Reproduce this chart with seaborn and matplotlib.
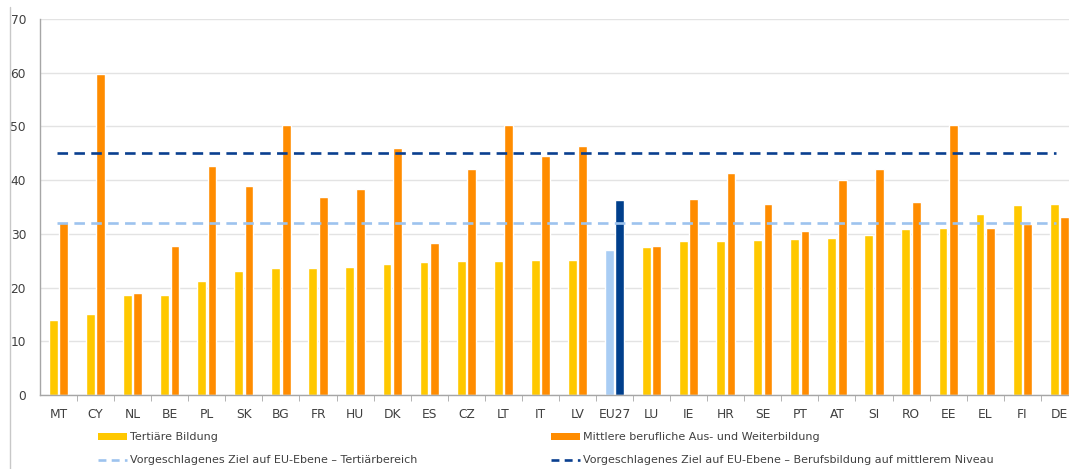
import pandas as pd
import matplotlib
matplotlib.use("Agg")
import matplotlib.pyplot as plt
import seaborn as sns
from matplotlib.lines import Line2D
from matplotlib.patches import Patch

# data
countries = ['MT', 'CY', 'NL', 'BE', 'PL', 'SK', 'BG', 'FR', 'HU', 'DK', 'ES', 'CZ', 'LT', 'IT',
             'LV', 'EU27', 'LU', 'IE', 'HR', 'SE', 'PT', 'AT', 'SI', 'RO', 'EE', 'EL', 'FI', 'DE']
tertiaer = [14.0, 15.0, 18.7, 18.7, 21.3, 23.0, 23.7, 23.7, 23.8, 24.4, 24.7, 24.9, 25.0, 25.1,
            25.1, 27.0, 27.5, 28.6, 28.6, 28.9, 29.0, 29.2, 29.7, 30.9, 31.0, 33.7, 35.3, 35.5]
berufl = [32.3, 59.8, 19.0, 27.7, 42.6, 38.9, 50.2, 36.9, 38.3, 46.0, 28.3, 42.1, 50.3, 44.5,
          46.4, 36.3, 27.7, 36.4, 41.4, 35.5, 30.5, 40.1, 42.1, 36.0, 50.2, 31.0, 31.8, 33.2]
ziel_tertiaer = 32
ziel_berufl = 45

lbl_t = 'Tertiäre Bildung'
lbl_b = 'Mittlere berufliche Aus- und Weiterbildung'
lbl_zt = 'Vorgeschlagenes Ziel auf EU-Ebene – Tertiärbereich'
lbl_zb = 'Vorgeschlagenes Ziel auf EU-Ebene – Berufsbildung auf mittlerem Niveau'

c_t, c_b = '#FFC800', '#FF8C00'
c_eu_t, c_eu_b = '#A9CDF4', '#003F8C'
c_zt, c_zb = '#9DC3EE', '#0A3F8F'

df = pd.DataFrame({'land': countries * 2,
                   'wert': tertiaer + berufl,
                   'typ': [lbl_t] * len(countries) + [lbl_b] * len(countries)})

sns.set_style('white')
plt.rcParams['font.family'] = ['DejaVu Sans']
plt.rcParams['text.color'] = '#404040'

fig = plt.figure(figsize=(10.69, 4.69), dpi=100)
ax = fig.add_axes([40 / 1069, 1 - 395 / 469, 1 - 40 / 1069, (395 - 19) / 469])

sns.barplot(data=df, x='land', y='wert', hue='typ', palette=[c_t, c_b],
            width=0.56, gap=0.15, ax=ax, legend=False, saturation=1)

# EU27 in blue
i_eu = countries.index('EU27')
ax.containers[0][i_eu].set_facecolor(c_eu_t)
ax.containers[1][i_eu].set_facecolor(c_eu_b)

ax.hlines(ziel_tertiaer, -0.05, 26.9, color=c_zt, lw=1.9, linestyle=(0, (4, 2.4)), zorder=3)
ax.hlines(ziel_berufl, -0.05, 26.9, color=c_zb, lw=1.9, linestyle=(0, (4, 2.4)), zorder=3)

ax.set_xlim(-0.5, 27.26)
ax.set_ylim(0, 70)
ax.set_yticks(range(0, 71, 10))
ax.set_xlabel('')
ax.set_ylabel('')
ax.yaxis.grid(True, color='#E3E3E3', lw=1)
ax.set_axisbelow(True)
for s in ['top', 'right']:
    ax.spines[s].set_visible(False)
for s in ['left', 'bottom']:
    ax.spines[s].set_color('#A6A6A6')
    ax.spines[s].set_linewidth(1)

ax.set_xticks(range(len(countries)))
ax.set_xticklabels(countries)
ax.set_xticks([i + 0.5 for i in range(len(countries) - 1)], minor=True)
ax.tick_params(axis='x', which='major', length=0, pad=9, labelsize=8.8, labelcolor='#404040')
ax.tick_params(axis='x', which='minor', length=4, color='#A6A6A6', direction='out')
ax.tick_params(axis='y', length=4, color='#A6A6A6', labelsize=8.8, labelcolor='#404040', pad=6)
ax.tick_params(axis='both', bottom=True, which='minor')

# legend in two columns
h_t = Patch(facecolor=c_t, edgecolor='none')
h_b = Patch(facecolor=c_b, edgecolor='none')
h_zt = Line2D([], [], color=c_zt, lw=1.9, linestyle=(0, (3, 2)))
h_zb = Line2D([], [], color=c_zb, lw=1.9, linestyle=(0, (3, 2)))
kw = dict(frameon=False, fontsize=8, handlelength=2.6, handleheight=0.6,
          handletextpad=0.3, labelspacing=1.2, loc='upper left', borderpad=0, borderaxespad=0)
fig.legend([h_t, h_zt], [lbl_t, lbl_zt], bbox_to_anchor=(98 / 1069, 1 - 432 / 469), **kw)
fig.legend([h_b, h_zb], [lbl_b, lbl_zb], bbox_to_anchor=(551 / 1069, 1 - 432 / 469), **kw)

# left border of the frame
fig.add_artist(Line2D([10 / 1069, 10 / 1069], [0, 1 - 7 / 469], transform=fig.transFigure,
                      color='#C8C8C8', lw=1))

fig.savefig('out.png', dpi=100)
